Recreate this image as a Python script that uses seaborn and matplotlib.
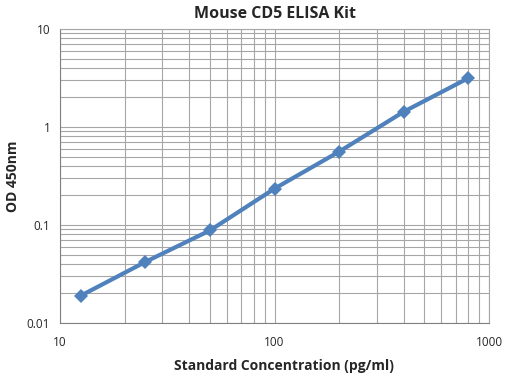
import pandas as pd
import matplotlib.pyplot as plt
import seaborn as sns
import matplotlib as mpl
from matplotlib.ticker import LogLocator, FixedLocator, FixedFormatter, NullFormatter

# Dane standardu
concentration = [12.5, 25, 50, 100, 200, 400, 800]
od_450 = [0.019, 0.042, 0.088, 0.235, 0.56, 1.43, 3.15]

x_ticks = [10, 100, 1000]
x_tick_labels = ["10", "100", "1000"]
y_ticks = [0.01, 0.1, 1, 10]
y_tick_labels = ["0.01", "0.1", "1", "10"]

sns.set_style("white")
mpl.rcParams["font.family"] = ["Open Sans", "DejaVu Sans"]

df = pd.DataFrame({"conc": concentration, "od": od_450})

fig = plt.figure(figsize=(5.09, 3.76), dpi=100)
ax = fig.add_axes([60 / 509, 53 / 376, 429 / 509, 294 / 376])

sns.lineplot(
    data=df, x="conc", y="od", ax=ax, color="#4f81bd", linewidth=3,
    marker="D", markersize=7, markeredgewidth=0, zorder=5,
)

ax.set_xscale("log")
ax.set_yscale("log")
ax.set_xlim(10, 1000)
ax.set_ylim(0.01, 10)

grid_col = "#a6a6a6"
ax.xaxis.set_major_locator(FixedLocator(x_ticks))
ax.xaxis.set_major_formatter(FixedFormatter(x_tick_labels))
ax.yaxis.set_major_locator(FixedLocator(y_ticks))
ax.yaxis.set_major_formatter(FixedFormatter(y_tick_labels))
ax.xaxis.set_minor_locator(LogLocator(base=10, subs=range(2, 10)))
ax.yaxis.set_minor_locator(LogLocator(base=10, subs=range(2, 10)))
ax.xaxis.set_minor_formatter(NullFormatter())
ax.yaxis.set_minor_formatter(NullFormatter())

ax.grid(True, which="both", color=grid_col, linewidth=0.8)
ax.set_axisbelow(True)
ax.tick_params(which="major", direction="out", length=4, width=0.8,
               color="#808080", labelsize=8.5, pad=3)
ax.tick_params(which="minor", length=0)
ax.tick_params(axis="x", pad=5)
for side in ["top", "right"]:
    ax.spines[side].set_color(grid_col)
    ax.spines[side].set_linewidth(0.8)
for side in ["left", "bottom"]:
    ax.spines[side].set_color("#808080")
    ax.spines[side].set_linewidth(0.8)

ax.set_title("Mouse CD5 ELISA Kit", fontsize=11.5, fontweight="bold", pad=8)
ax.set_xlabel("Standard Concentration (pg/ml)", fontsize=10, fontweight="bold")
ax.set_ylabel("OD 450nm", fontsize=10, fontweight="bold")
ax.xaxis.set_label_coords(0.522, -0.122)
ax.yaxis.set_label_coords(-0.093, 0.5)

plt.savefig("out.png", dpi=100)
